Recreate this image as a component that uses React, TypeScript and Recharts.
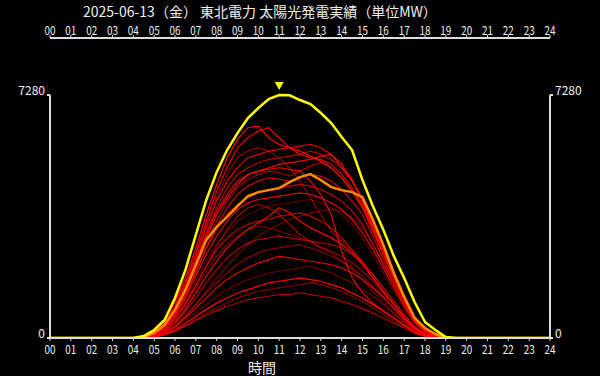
import React from 'react';
import { LineChart, Line, XAxis, YAxis, ReferenceLine, ReferenceDot } from 'recharts';

const TITLE = '2025-06-13（金） 東北電力 太陽光発電実績（単位MW）';
const X_LABEL = '時間';
const HOUR_TICKS = [0, 1, 2, 3, 4, 5, 6, 7, 8, 9, 10, 11, 12, 13, 14, 15, 16, 17, 18, 19, 20, 21, 22, 23, 24];
const Y_TICKS = [0, 7280];
const Y_MAX = 7280;
const PEAK_HOUR = 11;
// values below are half-hourly from 04:00 to 19:30; outside that range output is 0
const FIRST_HOUR = 4;
const STEP_HOURS = 0.5;

const maxRecord = [0, 60, 240, 540, 1200, 2040, 3090, 4130, 4970, 5630, 6140, 6590, 6890, 7160, 7280, 7270, 7130, 7010, 6740, 6440, 6020, 5630, 4730, 3950, 3240, 2460, 1800, 1080, 480, 240, 30, 0];
const today = [0, 30, 150, 390, 840, 1440, 2190, 2940, 3330, 3630, 3950, 4250, 4370, 4430, 4490, 4670, 4820, 4910, 4730, 4520, 4430, 4370, 4220, 3540, 2790, 1950, 1230, 600, 300, 120, 0, 0];

const pastDays: number[][] = [
  [0, 40, 200, 480, 1080, 1800, 2700, 3700, 4600, 5400, 5950, 6300, 6350, 6000, 5800, 5700, 5600, 5450, 5300, 5100, 4800, 4400, 3900, 3200, 2500, 1800, 1150, 550, 230, 80, 0, 0],
  [0, 30, 170, 420, 960, 1680, 2550, 3500, 4400, 5100, 5700, 6000, 6200, 6300, 6000, 5700, 5500, 5400, 5350, 5200, 4900, 4500, 4000, 3300, 2600, 1900, 1200, 600, 250, 90, 0, 0],
  [0, 30, 150, 400, 900, 1560, 2400, 3300, 4100, 4700, 5100, 5400, 5500, 5600, 5650, 5700, 5750, 5800, 5700, 5500, 5100, 4700, 4200, 3500, 2750, 2000, 1300, 650, 280, 100, 0, 0],
  [0, 20, 120, 360, 840, 1500, 2300, 3150, 3900, 4500, 4900, 5100, 5250, 5350, 5400, 5450, 5500, 5600, 5500, 5350, 5100, 4700, 4100, 3400, 2700, 1950, 1250, 620, 260, 90, 0, 0],
  [0, 20, 130, 380, 860, 1480, 2250, 3000, 3700, 4200, 4600, 4900, 5000, 5100, 5200, 5250, 5300, 5350, 5450, 5500, 5200, 4750, 4100, 3350, 2600, 1900, 1200, 600, 250, 80, 0, 0],
  [0, 20, 110, 330, 780, 1380, 2100, 2850, 3500, 4100, 4500, 4750, 4900, 5000, 4950, 4850, 5000, 5150, 5250, 5100, 4800, 4400, 3950, 3250, 2500, 1850, 1150, 580, 240, 80, 0, 0],
  [0, 15, 100, 300, 700, 1250, 1950, 2700, 3350, 3900, 4300, 4550, 4700, 4800, 4750, 4700, 4800, 4900, 4850, 4700, 4450, 4100, 3700, 3050, 2350, 1700, 1050, 520, 220, 70, 0, 0],
  [0, 30, 160, 420, 940, 1620, 2500, 3400, 4200, 4900, 5400, 5600, 5700, 5600, 5400, 5100, 4700, 4200, 3700, 3200, 2900, 2600, 2300, 1900, 1500, 1100, 700, 350, 150, 50, 0, 0],
  [0, 20, 130, 380, 860, 1500, 2300, 3100, 3800, 4300, 4700, 4900, 5000, 5050, 5100, 5050, 5000, 4700, 4300, 3700, 2600, 1800, 1350, 1050, 820, 600, 380, 180, 70, 20, 0, 0],
  [0, 15, 90, 260, 600, 1050, 1600, 2150, 2650, 3000, 3250, 3400, 3500, 3550, 3650, 3700, 3750, 3650, 3500, 3300, 3000, 2650, 2250, 1800, 1400, 1000, 620, 300, 120, 40, 0, 0],
  [0, 10, 80, 240, 560, 980, 1500, 2000, 2450, 2800, 3050, 3250, 3350, 3300, 3200, 3100, 3000, 2900, 2750, 2550, 2300, 2050, 1750, 1400, 1050, 750, 450, 220, 90, 30, 0, 0],
  [0, 10, 70, 200, 480, 860, 1350, 1850, 2300, 2700, 3000, 3250, 3450, 3650, 3900, 3750, 3500, 3300, 3150, 3000, 2800, 2550, 2200, 1800, 1400, 1000, 620, 300, 110, 30, 0, 0],
  [0, 10, 60, 180, 430, 780, 1200, 1650, 2050, 2400, 2650, 2850, 2950, 3000, 3050, 3000, 2950, 2900, 2850, 2800, 2700, 2500, 2250, 1900, 1500, 1100, 700, 340, 130, 40, 0, 0],
  [0, 8, 50, 150, 360, 650, 1000, 1350, 1650, 1950, 2200, 2400, 2550, 2650, 2700, 2750, 2800, 2700, 2600, 2450, 2300, 2100, 1850, 1550, 1250, 900, 560, 270, 100, 30, 0, 0],
  [0, 8, 50, 140, 330, 600, 900, 1200, 1500, 1750, 1950, 2100, 2250, 2350, 2450, 2400, 2350, 2300, 2250, 2200, 2100, 1950, 1750, 1500, 1200, 880, 540, 260, 100, 30, 0, 0],
  [0, 5, 40, 120, 280, 500, 760, 1000, 1250, 1450, 1600, 1750, 1850, 1950, 2000, 2050, 2100, 2150, 2050, 1950, 1800, 1650, 1450, 1250, 1000, 750, 460, 220, 80, 20, 0, 0],
  [0, 5, 35, 100, 240, 430, 650, 850, 1050, 1200, 1350, 1450, 1550, 1650, 1700, 1750, 1800, 1750, 1700, 1600, 1500, 1350, 1200, 1000, 800, 600, 380, 180, 70, 20, 0, 0],
  [0, 5, 30, 90, 200, 350, 520, 680, 820, 950, 1050, 1150, 1200, 1250, 1300, 1300, 1350, 1300, 1250, 1200, 1100, 1000, 880, 740, 600, 450, 290, 140, 50, 15, 0, 0],
  [0, 5, 30, 90, 210, 370, 560, 740, 900, 1050, 1200, 1300, 1400, 1450, 1500, 1550, 1600, 1650, 1600, 1500, 1400, 1250, 1100, 900, 720, 520, 330, 160, 60, 15, 0, 0],
  [0, 15, 100, 290, 680, 1200, 1850, 2500, 3050, 3500, 3850, 4050, 4150, 4200, 4250, 4300, 4350, 4300, 4200, 4050, 3850, 3550, 3150, 2650, 2100, 1500, 950, 470, 190, 60, 0, 0],
  [0, 12, 90, 270, 630, 1120, 1700, 2300, 2800, 3200, 3500, 3700, 3850, 3950, 4000, 4050, 4100, 4150, 4050, 3900, 3700, 3400, 3000, 2500, 1950, 1400, 880, 430, 170, 50, 0, 0],
  [0, 15, 110, 320, 740, 1300, 2000, 2700, 3250, 3700, 4000, 4200, 4350, 4450, 4500, 4550, 4600, 4550, 4450, 4300, 4100, 3800, 3400, 2800, 2200, 1600, 1000, 500, 200, 60, 0, 0],
  [0, 12, 80, 240, 560, 1000, 1550, 2150, 2750, 3250, 3650, 3900, 4000, 3900, 3700, 3400, 3100, 2900, 2700, 2600, 2450, 2250, 2000, 1700, 1350, 1000, 620, 300, 110, 30, 0, 0],
  [0, 8, 50, 150, 360, 650, 1000, 1400, 1800, 2150, 2500, 2800, 3050, 3250, 3400, 3550, 3650, 3750, 3800, 3850, 3800, 3600, 3300, 2800, 2250, 1650, 1050, 520, 200, 60, 0, 0],
];
const pastOpacity = [1, 0.9, 0.85, 0.7, 1, 0.6, 0.8, 0.55, 0.9, 0.75, 0.45, 0.95, 0.65, 0.55, 0.85, 0.4, 1, 0.7, 0.5, 0.9, 0.35, 0.8, 0.6, 0.45];

const PLOT_TOP_VALUE = 8988; // domain top so the upper hour axis sits above the 7280 line
const FONT = '"Noto Sans CJK JP", "Noto Sans", sans-serif';
const AXIS_COLOR = '#dddddd';
const TEXT_COLOR = '#f0f0f0';

const valueAt = (arr: number[], hour: number) => {
  const idx = Math.round((hour - FIRST_HOUR) / STEP_HOURS);
  return idx >= 0 && idx < arr.length ? arr[idx] : 0;
};

const rows = Array.from({ length: 49 }, (_, i) => {
  const h = i * STEP_HOURS;
  const row: Record<string, number> = { h, max: valueAt(maxRecord, h), today: valueAt(today, h) };
  pastDays.forEach((d, k) => {
    row['p' + k] = valueAt(d, h);
  });
  return row;
});

const pad = (v: number) => String(v).padStart(2, '0');

const HourTickTop = (props: any) => {
  const { x, y, payload } = props;
  return (
    <text x={x} y={y + 1.5} fill={TEXT_COLOR} fontSize={12} fontFamily={FONT} textAnchor="middle" textLength={11} lengthAdjust="spacingAndGlyphs">
      {pad(payload.value)}
    </text>
  );
};
const HourTickBottom = (props: any) => {
  const { x, y, payload } = props;
  return (
    <text x={x} y={y + 11} fill={TEXT_COLOR} fontSize={12} fontFamily={FONT} textAnchor="middle" textLength={11} lengthAdjust="spacingAndGlyphs">
      {pad(payload.value)}
    </text>
  );
};
const YTickLeft = (props: any) => {
  const { x, y, payload } = props;
  return (
    <text x={x} y={y} fill={TEXT_COLOR} fontSize={12} fontFamily={FONT} textAnchor="end">
      {payload.value}
    </text>
  );
};
const YTickRight = (props: any) => {
  const { x, y, payload } = props;
  return (
    <text x={x} y={y} fill={TEXT_COLOR} fontSize={12} fontFamily={FONT} textAnchor="start">
      {payload.value}
    </text>
  );
};

const PeakMarker = (props: any) => {
  const { cx, cy } = props;
  return <polygon points={`${cx - 4.5},${cy - 13} ${cx + 4.5},${cy - 13} ${cx},${cy - 5}`} fill="#ffff00" />;
};

const textBase: any = { position: 'absolute', fontSize: 14, lineHeight: '13px', color: TEXT_COLOR, fontFamily: FONT, whiteSpace: 'nowrap', textSpacingTrim: 'space-all' };

export default function App() {
  return (
    <div style={{ position: 'absolute', left: 0, top: 0, width: 600, height: 376, background: '#000', overflow: 'hidden' }}>
      <div style={{ ...textBase, left: 83, top: 5 }}>{TITLE}</div>
      <LineChart width={600} height={376} data={rows} margin={{ top: 0, right: 0, bottom: 0, left: 0 }}>
        <XAxis xAxisId="t" orientation="top" dataKey="h" type="number" domain={[0, 24]} ticks={HOUR_TICKS} interval={0} height={38}
          axisLine={{ stroke: AXIS_COLOR, strokeWidth: 2 }} tickLine={{ stroke: AXIS_COLOR }} tickSize={3} tickMargin={2} tick={<HourTickTop />} />
        <XAxis xAxisId="b" dataKey="h" type="number" domain={[0, 24]} ticks={HOUR_TICKS} interval={0} height={38}
          axisLine={{ stroke: AXIS_COLOR, strokeWidth: 2 }} tickLine={{ stroke: AXIS_COLOR }} tickSize={3} tickMargin={2} tick={<HourTickBottom />} />
        <YAxis yAxisId="l" domain={[0, PLOT_TOP_VALUE]} ticks={Y_TICKS} interval={0} width={50} axisLine={false}
          tickLine={{ stroke: AXIS_COLOR, strokeWidth: 2 }} tickSize={3} tickMargin={2} tick={<YTickLeft />} allowDataOverflow />
        <YAxis yAxisId="r" orientation="right" domain={[0, PLOT_TOP_VALUE]} ticks={Y_TICKS} interval={0} width={50} axisLine={false}
          tickLine={{ stroke: AXIS_COLOR, strokeWidth: 2 }} tickSize={3} tickMargin={2} tick={<YTickRight />} allowDataOverflow />
        <ReferenceLine xAxisId="b" yAxisId="l" segment={[{ x: 0, y: 0 }, { x: 0, y: Y_MAX }]} stroke={AXIS_COLOR} strokeWidth={2} />
        <ReferenceLine xAxisId="b" yAxisId="l" segment={[{ x: 24, y: 0 }, { x: 24, y: Y_MAX }]} stroke={AXIS_COLOR} strokeWidth={2} />
        {pastDays.map((_, k) => (
          <Line key={k} xAxisId="b" yAxisId="l" type="linear" dataKey={'p' + k} stroke="#ff0000" strokeOpacity={pastOpacity[k]}
            strokeWidth={1.2} dot={false} isAnimationActive={false} />
        ))}
        <Line xAxisId="b" yAxisId="l" type="linear" dataKey="today" stroke="#ff8c00" strokeWidth={2.5} dot={false} isAnimationActive={false} />
        <Line xAxisId="b" yAxisId="l" type="linear" dataKey="max" stroke="#ffff00" strokeWidth={2.5} dot={false} isAnimationActive={false} />
        <ReferenceDot xAxisId="b" yAxisId="l" x={PEAK_HOUR} y={Y_MAX} r={0} shape={<PeakMarker />} />
      </LineChart>
      <div style={{ ...textBase, left: 248, top: 361 }}>{X_LABEL}</div>
    </div>
  );
}
